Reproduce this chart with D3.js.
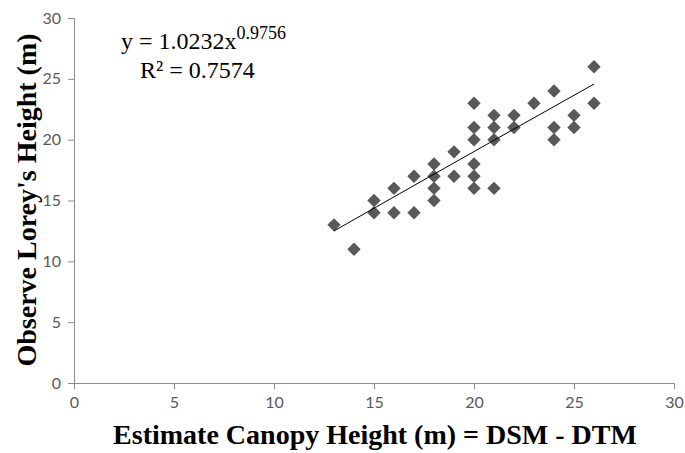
<!DOCTYPE html>
<html>
<head>
<meta charset="utf-8">
<script src="https://cdn.jsdelivr.net/npm/d3@7"></script>
</head>
<body style="margin:0; background:#fff;">
<svg></svg>
<script>
let width = 685;
let height = 453;

// observed data (estimate canopy height, observed Lorey's height)
let estHeight = [13, 14, 15, 15, 16, 16, 17, 17, 18, 18, 18, 18, 19, 19,
    20, 20, 20, 20, 20, 20, 21, 21, 21, 21, 22, 22, 23, 24, 24, 24, 25, 25, 26, 26];
let obsHeight = [13, 11, 15, 14, 16, 14, 17, 14, 18, 17, 16, 15, 19, 17,
    23, 21, 20, 18, 17, 16, 22, 21, 20, 16, 22, 21, 23, 24, 21, 20, 22, 21, 26, 23];

let xTicks = [0, 5, 10, 15, 20, 25, 30];
let yTicks = [0, 5, 10, 15, 20, 25, 30];

// power trendline y = a * x^b
let coefA = 1.0232;
let coefB = 0.9756;
let rSquared = 0.7574;
let trendX = [13, 26];

let svg = d3.select('svg')
    .attr('width', width)
    .attr('height', height);

let x = d3.scaleLinear().domain([0, 30]).range([74, 674]);
let y = d3.scaleLinear().domain([0, 30]).range([383, 18]);

// shared axis styling, set inline so it wins over d3's defaults
function styleAxis(g) {
    g.selectAll('.tick text')
        .style('font-family', 'Lato, "Open Sans", sans-serif')
        .style('font-size', '16px')
        .style('fill', '#595959');
    g.selectAll('.tick line, .domain').style('stroke', '#8c8c8c');
}

// axes
svg.append('g')
    .attr('transform', `translate(0, ${y(0)})`)
    .call(d3.axisBottom(x).tickValues(xTicks).tickSize(6).tickPadding(8))
    .call(styleAxis);

svg.append('g')
    .attr('transform', `translate(${x(0)}, 0)`)
    .call(d3.axisLeft(y).tickValues(yTicks).tickSize(6).tickPadding(7))
    .call(styleAxis);

// points as diamonds
let points = estHeight.map((d, i) => ({ x: d, y: obsHeight[i] }));
svg.selectAll('path.pt')
    .data(points)
    .enter()
    .append('path')
    .classed('pt', true)
    .attr('d', d3.symbol().type(d3.symbolSquare).size(90))
    .attr('transform', d => `translate(${x(d.x)}, ${y(d.y)}) rotate(45)`)
    .style('fill', '#595959');

// trendline
let trendPts = d3.range(trendX[0], trendX[1] + 0.001, 0.25).map(v => [v, coefA * Math.pow(v, coefB)]);
svg.append('path')
    .datum(trendPts)
    .attr('d', d3.line().x(d => x(d[0])).y(d => y(d[1])))
    .style('fill', 'none')
    .style('stroke', '#000')
    .style('stroke-width', 1);

// equation labels
let serif = '"Liberation Serif", "Times New Roman", serif';
let eq = svg.append('text')
    .attr('x', 121)
    .attr('y', 49)
    .style('font-family', serif)
    .style('font-size', '24px')
    .style('fill', '#000');
eq.append('tspan').text('y = ' + coefA + 'x');
eq.append('tspan').attr('dy', -10).style('font-size', '18px').text(coefB);

svg.append('text')
    .attr('x', 140)
    .attr('y', 78)
    .style('font-family', serif)
    .style('font-size', '24px')
    .style('fill', '#000')
    .text('R² = ' + rSquared);

// axis titles
svg.append('text')
    .attr('x', 375)
    .attr('y', 444)
    .attr('text-anchor', 'middle')
    .style('font-family', serif)
    .style('font-weight', 'bold')
    .style('font-size', '28px')
    .text('Estimate Canopy Height (m) = DSM - DTM');

svg.append('text')
    .attr('transform', 'translate(36, 200) rotate(-90)')
    .attr('text-anchor', 'middle')
    .style('font-family', serif)
    .style('font-weight', 'bold')
    .style('font-size', '28px')
    .text("Observe Lorey's Height (m)");
</script>
</body>
</html>
